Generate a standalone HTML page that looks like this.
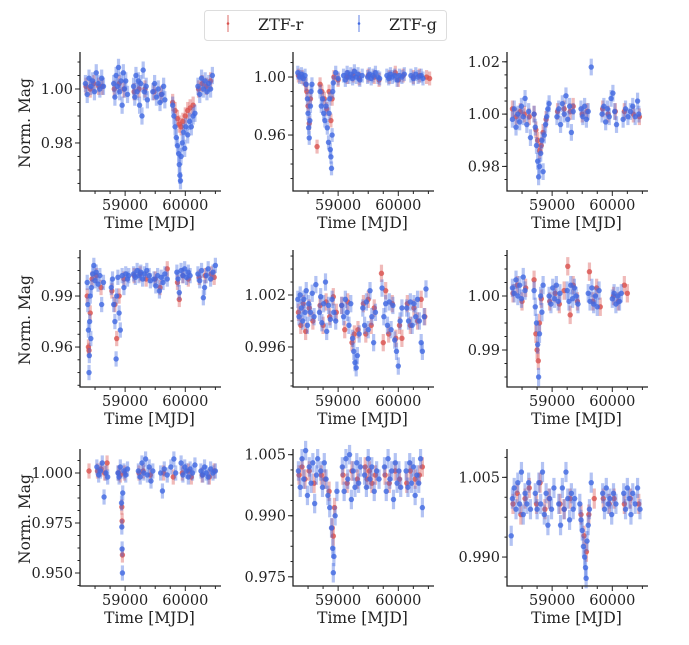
<!DOCTYPE html>
<html><head><meta charset="utf-8">
<style>
html,body{margin:0;padding:0;background:#fff;}
svg{display:block;font-family:"DejaVu Serif","Liberation Serif",serif;}
</style></head>
<body>
<svg id="fig" width="689" height="645" viewBox="0 0 689 645" xmlns="http://www.w3.org/2000/svg">
<g>
<rect x="204.5" y="10.5" width="242" height="30" rx="3" fill="#fff" stroke="#ddd"/>
<g>
<line x1="228" y1="15" x2="228" y2="32" stroke="#d9534f" stroke-opacity="0.7" stroke-width="1.2"/>
<circle cx="228" cy="23.5" r="1.3" fill="#d9534f"/>
<text x="258" y="30" font-size="16" fill="#222">ZTF-r</text></g>
<g>
<line x1="359" y1="15" x2="359" y2="32" stroke="#4169e1" stroke-opacity="0.7" stroke-width="1.2"/>
<circle cx="359" cy="23.5" r="1.3" fill="#4169e1"/>
<text x="389" y="30" font-size="16" fill="#222">ZTF-g</text></g>
</g>
</svg>
<script>
const xDomain=[58250,60560];
const xTicks=[59000,60000];
const xTickLabels=["59000","60000"];
const panelNames=["panel-1","panel-2","panel-3","panel-4","panel-5","panel-6","panel-7","panel-8","panel-9"];
const yDomains=[[0.9622,1.0126],[0.9214,1.0152],[0.9706,1.0226],[0.9365,1.0153],[0.99138,1.00685],[0.98315,1.00796],[0.9435,1.0105],[0.97274,1.00566],[0.98455,1.00977]];
const yTicks=[[0.98,1.00],[0.96,1.00],[0.98,1.00,1.02],[0.96,0.99],[0.996,1.002],[0.99,1.00],[0.950,0.975,1.000],[0.975,0.990,1.005],[0.990,1.005]];
const yTickLabels=[["0.98","1.00"],["0.96","1.00"],["0.98","1.00","1.02"],["0.96","0.99"],["0.996","1.002"],["0.99","1.00"],["0.950","0.975","1.000"],["0.975","0.990","1.005"],["0.990","1.005"]];
const errs=[0.0032,0.0048,0.0032,0.0045,0.0010,0.0017,0.0038,0.0024,0.0019];
const gData=[
[[58340,1.002],[58370,0.998],[58400,1.004],[58430,1.001],[58460,1.003],[58490,0.999],[58520,1.006],[58550,1.002],[58580,1.000],[58610,1.004],[58640,1.001],[58810,1.002],[58830,0.997],[58850,1.005],[58870,1.001],[58890,1.008],[58910,0.999],[58930,1.003],[58950,0.994],[58970,1.006],[58990,1.000],[59010,1.003],[59040,0.998],[59140,1.001],[59160,0.997],[59180,1.005],[59200,0.999],[59220,1.003],[59240,0.994],[59260,1.002],[59280,0.990],[59300,1.007],[59320,0.999],[59350,1.001],[59370,0.996],[59460,0.999],[59490,1.002],[59520,0.997],[59550,1.000],[59580,0.995],[59610,0.998],[59640,1.001],[59660,0.996],[59790,0.994],[59810,0.990],[59830,0.986],[59850,0.982],[59870,0.979],[59890,0.976],[59900,0.972],[59910,0.968],[59920,0.966],[59930,0.975],[59950,0.980],[59970,0.984],[59990,0.978],[60010,0.986],[60040,0.983],[60070,0.988],[60100,0.986],[60130,0.990],[60160,0.991],[60210,1.001],[60240,0.998],[60270,1.004],[60300,1.000],[60330,1.003],[60360,0.999],[60390,1.002],[60420,1.000],[60450,1.005]],
[[58330,1.003],[58360,1.000],[58390,1.002],[58420,0.999],[58450,1.001],[58470,0.995],[58490,0.985],[58500,0.975],[58510,0.965],[58520,0.958],[58530,0.970],[58540,0.980],[58550,0.990],[58565,0.995],[58700,0.990],[58720,0.980],[58740,0.985],[58760,0.975],[58780,0.970],[58800,0.980],[58820,0.965],[58840,0.955],[58850,0.975],[58860,0.985],[58870,0.950],[58880,0.945],[58890,0.937],[58900,0.960],[58910,0.990],[58920,0.996],[58960,1.003],[59000,0.999],[59090,1.001],[59120,0.998],[59150,1.003],[59180,1.000],[59210,1.002],[59240,0.999],[59270,1.004],[59300,1.000],[59330,1.002],[59360,0.998],[59400,1.001],[59490,1.000],[59520,1.002],[59550,0.999],[59580,1.001],[59620,1.003],[59660,1.000],[59690,0.999],[59810,1.001],[59840,0.999],[59870,1.002],[59900,1.000],[59940,1.001],[59980,0.998],[60020,1.001],[60060,1.000],[60100,1.002],[60210,1.001],[60250,0.999],[60290,1.002],[60330,1.000],[60380,1.001],[60410,0.999]],
[[58340,0.998],[58370,1.002],[58400,0.995],[58430,1.000],[58460,0.997],[58490,1.003],[58520,0.999],[58550,1.006],[58580,0.996],[58610,1.001],[58640,0.991],[58700,1.000],[58720,0.995],[58740,0.988],[58760,0.982],[58775,0.976],[58790,0.980],[58810,0.985],[58830,0.990],[58850,0.978],[58870,0.992],[58890,0.996],[58910,0.999],[58930,1.002],[58950,1.004],[59080,0.999],[59110,1.002],[59140,0.996],[59170,1.004],[59200,1.000],[59230,1.007],[59260,0.998],[59290,1.003],[59320,0.993],[59350,1.001],[59480,1.002],[59510,0.999],[59540,1.003],[59570,0.998],[59600,1.001],[59650,1.018],[59830,1.000],[59860,1.003],[59890,0.997],[59920,1.002],[59950,0.999],[59980,1.006],[60010,1.008],[60040,1.001],[60070,0.996],[60180,0.998],[60220,1.002],[60260,0.999],[60300,1.001],[60340,1.003],[60380,0.999],[60420,1.005],[60440,1.000]],
[[58370,0.998],[58380,0.985],[58390,0.970],[58400,0.945],[58405,0.955],[58410,0.975],[58420,0.990],[58430,0.965],[58440,0.995],[58460,1.003],[58480,1.008],[58500,0.999],[58520,1.004],[58550,0.997],[58580,1.002],[58610,0.985],[58640,0.998],[58770,0.995],[58790,1.000],[58810,0.985],[58830,0.975],[58850,0.953],[58860,0.990],[58880,1.001],[58900,0.980],[58920,0.970],[58950,1.002],[58980,0.995],[59010,1.003],[59040,1.000],[59060,1.002],[59140,1.003],[59170,1.001],[59200,1.005],[59230,1.002],[59260,1.004],[59290,1.000],[59320,1.003],[59360,1.005],[59400,1.002],[59420,0.999],[59480,1.000],[59510,0.996],[59540,1.002],[59570,0.993],[59600,1.001],[59630,0.998],[59660,1.003],[59700,1.000],[59860,1.004],[59880,1.000],[59900,0.992],[59930,1.005],[59960,1.002],[59990,1.006],[60020,1.001],[60050,1.004],[60080,1.002],[60210,1.003],[60240,0.999],[60270,1.005],[60300,0.989],[60320,0.995],[60350,1.002],[60380,1.006],[60420,1.000],[60460,1.004],[60500,1.008]],
[[58330,1.0015],[58350,0.9995],[58370,1.002],[58390,1.0005],[58410,0.999],[58430,1.0015],[58450,1.000],[58470,1.0025],[58490,0.9985],[58510,1.001],[58540,1.000],[58570,1.0022],[58600,0.9995],[58630,1.0032],[58690,1.000],[58710,1.0018],[58730,0.9988],[58760,1.001],[58790,1.0035],[58810,0.9978],[58840,1.0008],[58870,0.9992],[58900,1.0015],[58930,1.000],[58960,0.999],[59060,1.0008],[59090,0.9995],[59120,1.0015],[59150,1.000],[59180,0.9985],[59210,1.001],[59240,0.997],[59260,0.9955],[59280,0.9942],[59300,0.9936],[59320,0.995],[59350,0.9975],[59410,1.0005],[59440,0.9985],[59470,1.0012],[59500,0.998],[59530,1.0025],[59560,0.9995],[59590,0.9965],[59620,1.000],[59730,1.0028],[59760,0.9995],[59790,1.001],[59820,0.9985],[59850,1.0012],[59880,0.998],[59910,1.0008],[59940,0.9968],[59970,0.9955],[60000,0.9938],[60030,0.999],[60060,1.0005],[60140,1.0005],[60170,0.999],[60200,1.0012],[60230,0.9985],[60260,1.001],[60290,0.9995],[60320,1.0015],[60350,0.999],[60380,0.9965],[60400,0.9955],[60430,0.9995],[60460,1.0027]],
[[58340,1.0015],[58370,1.0005],[58400,1.003],[58430,1.000],[58460,1.002],[58490,0.9995],[58520,1.0035],[58550,1.001],[58700,1.001],[58720,0.998],[58740,0.995],[58760,0.991],[58775,0.985],[58790,0.993],[58810,1.000],[58830,0.997],[58850,1.002],[58950,1.000],[58980,0.9985],[59010,1.0015],[59040,0.9995],[59070,1.002],[59100,0.999],[59130,1.0005],[59250,1.001],[59280,0.999],[59310,1.002],[59340,0.9995],[59370,1.0015],[59400,1.000],[59430,0.9985],[59600,1.0005],[59630,0.999],[59660,1.0015],[59690,0.9985],[59720,1.000],[59750,0.998],[59780,1.001],[60000,0.9995],[60030,1.0005],[60060,0.9985],[60090,1.000],[60120,0.999],[60150,1.0005]],
[[58530,1.003],[58560,0.999],[58590,1.001],[58620,1.005],[58650,0.988],[58680,1.000],[58710,0.998],[58880,1.000],[58900,0.998],[58920,1.003],[58940,0.985],[58945,0.973],[58950,0.962],[58955,0.950],[58960,0.990],[58980,1.001],[59010,0.999],[59040,1.002],[59220,1.001],[59250,0.998],[59280,1.005],[59310,1.000],[59340,1.007],[59370,0.999],[59400,1.003],[59430,0.996],[59460,1.001],[59590,1.000],[59620,0.991],[59650,1.002],[59700,0.999],[59760,1.003],[59810,1.007],[59840,1.000],[59930,1.005],[59960,0.999],[59990,1.003],[60020,1.001],[60050,0.998],[60080,1.002],[60120,1.000],[60160,1.004],[60260,1.001],[60290,0.999],[60320,1.003],[60350,1.000],[60380,0.998],[60420,1.002],[60460,1.000],[60500,1.001]],
[[58340,1.001],[58370,0.997],[58400,1.004],[58430,0.999],[58460,1.006],[58490,0.995],[58520,1.002],[58550,0.998],[58580,1.003],[58610,0.993],[58640,1.000],[58660,1.004],[58710,1.001],[58740,0.997],[58770,1.003],[58800,0.999],[58830,0.995],[58860,0.992],[58890,0.987],[58910,0.982],[58920,0.976],[58930,0.980],[58950,0.990],[58980,0.996],[59070,1.002],[59100,0.996],[59130,1.004],[59160,0.999],[59190,1.005],[59220,0.994],[59250,1.001],[59280,0.997],[59310,1.003],[59340,0.998],[59370,1.002],[59440,1.000],[59470,0.997],[59500,1.004],[59530,0.999],[59560,1.002],[59600,0.996],[59640,1.001],[59680,0.999],[59770,1.002],[59800,0.996],[59830,1.004],[59860,0.999],[59890,1.001],[59920,0.994],[59950,1.003],[59980,0.998],[60010,1.001],[60040,0.997],[60130,1.001],[60160,0.997],[60190,1.003],[60220,0.998],[60250,1.002],[60280,0.995],[60310,1.000],[60340,0.998],[60370,1.004],[60400,0.992]],
[[58320,0.994],[58340,1.001],[58370,1.003],[58400,0.999],[58430,1.004],[58460,1.000],[58490,1.006],[58520,0.998],[58550,1.002],[58580,1.000],[58610,1.004],[58640,0.999],[58720,1.002],[58750,0.999],[58780,1.004],[58810,1.000],[58840,1.006],[58870,0.998],[58900,1.002],[58930,0.996],[58960,1.001],[58990,0.999],[59030,1.003],[59110,1.000],[59140,0.996],[59170,1.003],[59200,0.999],[59230,1.006],[59260,1.001],[59290,0.997],[59320,1.002],[59350,0.999],[59375,1.001],[59460,1.000],[59480,0.997],[59500,0.995],[59520,0.992],[59540,0.990],[59555,0.988],[59565,0.986],[59580,0.993],[59600,0.996],[59620,0.999],[59650,1.004],[59840,1.002],[59870,0.999],[59900,1.003],[59930,1.000],[59960,1.001],[59990,0.998],[60020,1.002],[60060,1.000],[60190,1.002],[60220,0.999],[60250,1.003],[60280,1.001],[60310,0.998],[60340,1.002],[60380,1.000],[60420,1.003],[60460,0.999]]
];
const rData=[
[[58350,1.001],[58420,1.000],[58480,1.002],[58560,1.001],[58620,1.001],[58820,1.000],[58900,1.002],[58980,1.000],[59150,0.999],[59230,1.000],[59330,1.000],[59480,0.999],[59600,0.998],[59790,0.995],[59830,0.992],[59870,0.989],[59900,0.987],[59930,0.986],[59960,0.988],[60000,0.990],[60040,0.992],[60080,0.993],[60130,0.994],[60220,1.000],[60280,1.002],[60350,1.001],[60420,1.003]],
[[58340,1.001],[58400,1.000],[58460,0.995],[58480,0.990],[58500,0.980],[58520,0.968],[58540,0.985],[58650,0.952],[58700,0.995],[58730,0.990],[58770,0.985],[58810,0.978],[58850,0.990],[58880,0.970],[58900,0.985],[58930,1.000],[59000,0.998],[59150,1.000],[59250,1.001],[59350,0.999],[59500,1.001],[59600,1.000],[59680,0.998],[59850,1.000],[59950,1.003],[60000,0.998],[60080,1.001],[60250,1.000],[60350,1.001],[60470,1.000],[60520,0.999]],
[[58340,1.002],[58400,0.999],[58470,1.001],[58540,1.000],[58620,0.999],[58700,1.000],[58730,0.994],[58760,0.990],[58790,0.986],[58820,0.988],[58850,0.993],[58900,0.998],[59090,1.001],[59200,1.002],[59300,1.001],[59350,1.003],[59500,1.000],[59580,1.001],[59840,1.002],[59930,1.000],[60050,1.001],[60200,1.001],[60350,1.000],[60450,0.999]],
[[58370,0.990],[58390,0.960],[58400,0.958],[58420,0.980],[58450,1.000],[58520,1.002],[58600,0.995],[58780,0.993],[58830,0.985],[58860,0.965],[58900,0.990],[58980,1.000],[59150,1.002],[59250,1.003],[59350,1.000],[59500,1.000],[59580,0.995],[59700,1.006],[59870,0.998],[59900,0.988],[59960,1.002],[60050,1.000],[60230,1.001],[60330,1.002],[60430,1.003],[60480,1.001]],
[[58340,1.000],[58380,0.9985],[58420,1.001],[58460,0.9978],[58520,1.0005],[58580,0.999],[58700,1.0008],[58750,0.9985],[58800,1.0012],[58860,0.9995],[58920,1.0018],[58970,1.000],[59060,1.0008],[59110,0.998],[59160,1.0012],[59230,0.9965],[59270,0.9975],[59330,0.998],[59420,1.001],[59460,0.9975],[59500,1.0015],[59550,0.9985],[59600,1.0005],[59720,1.0045],[59750,0.9965],[59790,1.0025],[59840,0.9975],[59900,1.001],[59960,0.997],[60020,0.9985],[60060,0.997],[60150,1.001],[60200,0.9985],[60260,1.0005],[60320,0.999],[60380,1.0015],[60440,0.9995]],
[[58350,1.0005],[58420,1.002],[58500,0.999],[58560,1.0015],[58700,1.003],[58730,0.993],[58750,0.990],[58770,0.988],[58790,0.995],[58820,0.9995],[58960,0.999],[59050,1.0005],[59120,0.9985],[59200,1.001],[59260,1.0055],[59300,0.9965],[59350,1.002],[59420,0.999],[59620,1.0045],[59680,0.999],[59740,1.0015],[59800,0.998],[60020,1.000],[60100,0.999],[60200,1.002],[60250,1.0005]],
[[58400,1.001],[58540,1.001],[58600,1.002],[58660,1.000],[58700,1.005],[58890,1.000],[58920,0.999],[58945,0.983],[58950,0.976],[58955,0.959],[58990,1.000],[59230,1.000],[59300,1.001],[59420,0.999],[59640,1.000],[59800,0.998],[59950,1.000],[60050,1.001],[60100,0.998],[60280,0.999],[60400,0.998],[60480,1.001]],
[[58350,1.000],[58400,1.002],[58450,0.999],[58520,1.001],[58600,0.998],[58720,1.000],[58780,0.999],[58850,0.996],[58900,0.987],[58920,0.985],[58940,0.992],[59080,1.000],[59150,0.998],[59230,1.001],[59320,0.999],[59450,1.002],[59480,0.999],[59520,1.001],[59560,0.998],[59620,1.000],[59780,1.000],[59850,0.998],[59950,1.001],[60020,0.999],[60140,0.998],[60200,1.001],[60280,0.999],[60350,1.000],[60400,1.002]],
[[58350,1.000],[58420,1.002],[58480,0.998],[58550,1.001],[58620,1.003],[58740,1.000],[58800,1.004],[58880,0.999],[58950,1.001],[59130,1.000],[59200,0.999],[59300,1.001],[59480,0.998],[59530,0.994],[59570,0.991],[59610,0.998],[59700,1.001],[59850,1.001],[59950,1.000],[60030,1.001],[60200,1.000],[60300,1.001],[60440,1.000]]
];

const NS="http://www.w3.org/2000/svg";
const svg=document.getElementById('fig');
const colL=[80,293,507], colW=139;
const rowT=[55,253,452], rowB=[191,387,586];
const RED="#d9534f", BLUE="#4169e1";
function mk(tag,attrs,parent){const e=document.createElementNS(NS,tag);for(const k in attrs)e.setAttribute(k,attrs[k]);parent.appendChild(e);return e;}

panelNames.forEach((pn,i)=>{
  const c=i%3, r=Math.floor(i/3);
  const L=colL[c], R=L+colW, T=rowT[r], B=rowB[r];
  const yd=yDomains[i];
  const sx=t=>L+(t-xDomain[0])/(xDomain[1]-xDomain[0])*(R-L);
  const sy=v=>B-(v-yd[0])/(yd[1]-yd[0])*(B-T);
  const g=mk('g',{},svg);
  
  
  [[rData[i],RED,'ztf-r'],[gData[i],BLUE,'ztf-g']].forEach(([data,col,nm])=>{
    const sg=mk('g',{},g);
    
    
    data.forEach(([t,v])=>{
      const x=sx(t), y=sy(v), e=errs[i];
      const ln=mk('line',{x1:x,x2:x,y1:sy(v+e),y2:sy(v-e),stroke:col,'stroke-opacity':0.4,'stroke-width':3.2},sg);
      
      
      const pt=mk('circle',{cx:x,cy:y,r:2.7,fill:col,'fill-opacity':0.8},sg);
      
      
    });
  });
  const ax=mk('path',{d:`M${L},${T-3} V${B} H${R+2}`,fill:'none',stroke:'#222','stroke-width':1.3},g);
  
  
  for(let t=58500;t<=60500;t+=250){const x=sx(t);if(x<L||x>R)continue;const major=(t%1000===0);mk('line',{x1:x,x2:x,y1:B,y2:B+(major?5:3),stroke:'#222','stroke-width':1},g);}
  xTicks.forEach((t,k)=>{
    const tx=mk('text',{x:sx(t),y:B+19,'font-size':14.5,'text-anchor':'middle',fill:'#222'},g);
    tx.textContent=xTickLabels[k];
    
    
  });
  const xl=mk('text',{x:(L+R)/2,y:B+37,'font-size':15.5,'text-anchor':'middle',fill:'#222'},g);
  xl.textContent='Time [MJD]';
  
  
  const yt=yTicks[i], step=(yt[1]-yt[0])/4;
  for(let v=yt[0]-8*step;v<=yd[1];v+=step){if(v<yd[0])continue;const y=sy(v);mk('line',{x1:L-2.5,x2:L,y1:y,y2:y,stroke:'#222','stroke-width':1},g);}
  yt.forEach((v,k)=>{
    const y=sy(v);
    mk('line',{x1:L-5,x2:L,y1:y,y2:y,stroke:'#222','stroke-width':1},g);
    const tx=mk('text',{x:L-7,y:y+5,'font-size':14.5,'text-anchor':'end',fill:'#222'},g);
    tx.textContent=yTickLabels[i][k];
    
    
  });
  if(c===0){
    const cy=(T+B)/2;
    const yl=mk('text',{x:30,y:cy,'font-size':15.5,'text-anchor':'middle',fill:'#222',transform:`rotate(-90 30 ${cy})`},g);
    yl.textContent='Norm. Mag';
    
    
  }
});
</script>
</body></html>
